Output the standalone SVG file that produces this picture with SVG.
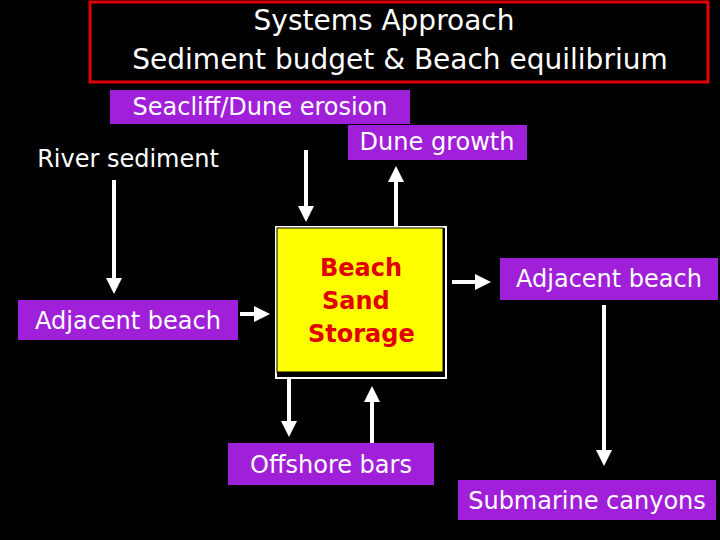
<svg xmlns="http://www.w3.org/2000/svg" width="720" height="540" viewBox="0 0 720 540">
<style>
.lbl{fill:#a01fd8}
.t{font-family:"DejaVu Sans",sans-serif;font-size:24px;fill:#fff}
.c line{stroke:#fff;stroke-width:4}
</style>
<defs><marker id="a" markerWidth="4" markerHeight="4" refX="3" refY="2" orient="auto"><path d="M0,0L4,2L0,4z" fill="#fff"/></marker></defs>
<rect width="720" height="540" fill="#000"/>
<g id="title"><rect x="90" y="2" width="618" height="80" fill="#000" stroke="#e00000" stroke-width="3"/>
<text x="384" y="30" text-anchor="middle" font-family="DejaVu Sans,sans-serif" font-size="28" fill="#fff">Systems Approach</text>
<text x="400" y="69" text-anchor="middle" font-family="DejaVu Sans,sans-serif" font-size="28" fill="#fff">Sediment budget &amp; Beach equilibrium</text></g>
<g class="c">
<line x1="114" y1="180" x2="114" y2="290" marker-end="url(#a)"/>
<line x1="306" y1="150" x2="306" y2="218" marker-end="url(#a)"/>
<line x1="396" y1="228" x2="396" y2="170" marker-end="url(#a)"/>
<line x1="240" y1="314" x2="266" y2="314" marker-end="url(#a)"/>
<line x1="452" y1="282" x2="487" y2="282" marker-end="url(#a)"/>
<line x1="289" y1="378" x2="289" y2="433" marker-end="url(#a)"/>
<line x1="372" y1="443" x2="372" y2="390" marker-end="url(#a)"/>
<line x1="604" y1="305" x2="604" y2="462" marker-end="url(#a)"/>
</g>
<g id="seacliff"><rect class="lbl" x="110" y="90" width="300" height="34"/><text class="t" x="260" y="115" text-anchor="middle">Seacliff/Dune erosion</text></g>
<g id="dune"><rect class="lbl" x="348" y="125" width="179" height="35"/><text class="t" x="437" y="150" text-anchor="middle">Dune growth</text></g>
<g id="river"><text class="t" x="128" y="167" text-anchor="middle">River sediment</text></g>
<g id="adjL"><rect class="lbl" x="18" y="300" width="220" height="40"/><text class="t" x="128" y="329" text-anchor="middle">Adjacent beach</text></g>
<g id="beach"><rect x="276" y="227" width="170" height="151" fill="none" stroke="#fff" stroke-width="2"/><rect x="277" y="228" width="166" height="144" fill="#ffff00" stroke="#000" stroke-width="1"/>
<g font-family="DejaVu Sans,sans-serif" font-size="24" fill="#e00000" font-weight="bold"><text x="320" y="276">Beach</text><text x="322" y="309">Sand</text><text x="308" y="342">Storage</text></g></g>
<g id="adjR"><rect class="lbl" x="500" y="258" width="218" height="42"/><text class="t" x="609" y="287" text-anchor="middle">Adjacent beach</text></g>
<g id="offshore"><rect class="lbl" x="228" y="443" width="206" height="42"/><text class="t" x="331" y="473" text-anchor="middle">Offshore bars</text></g>
<g id="canyons"><rect class="lbl" x="458" y="480" width="258" height="40"/><text class="t" x="587" y="509" text-anchor="middle">Submarine canyons</text></g>
</svg>
